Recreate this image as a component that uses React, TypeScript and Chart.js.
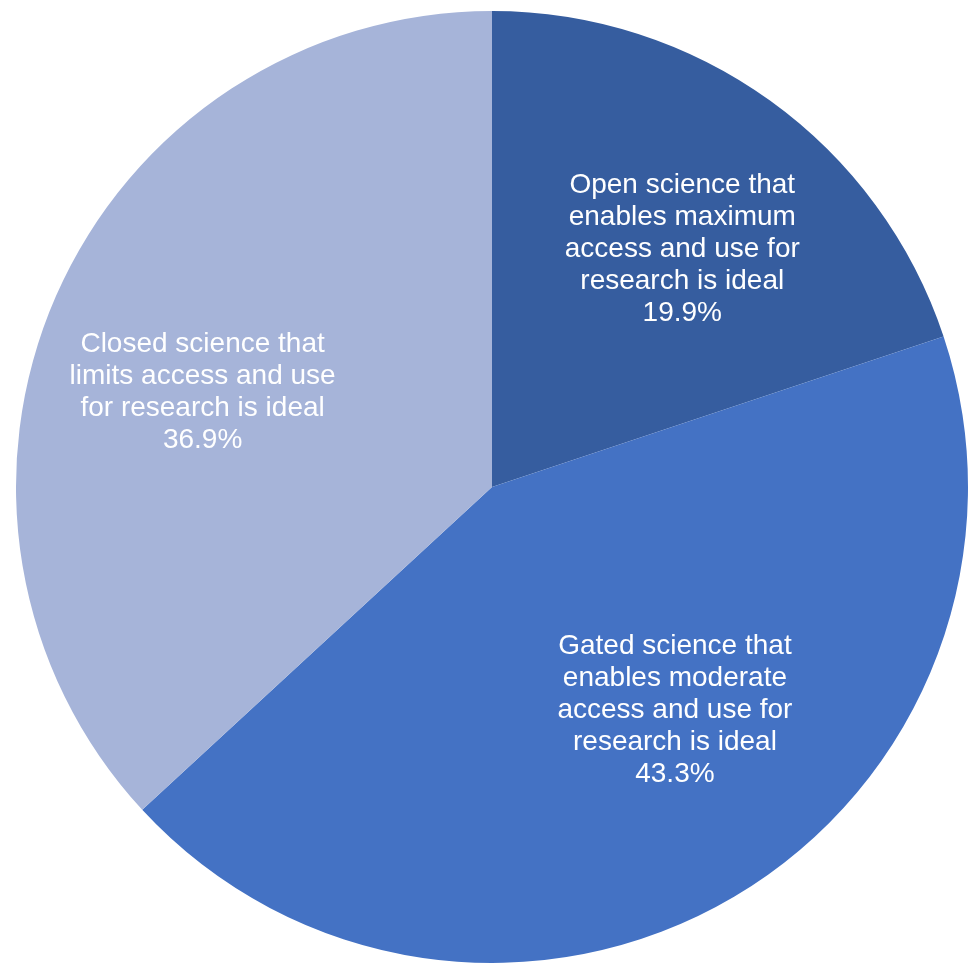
import React, { useEffect, useRef } from "react";
import { Chart, registerables } from "chart.js";

Chart.register(...registerables);

const categories = [
  "Open science that enables maximum access and use for research is ideal",
  "Gated science that enables moderate access and use for research is ideal",
  "Closed science that limits access and use for research is ideal",
];
const values = [19.9, 43.3, 36.9];
const percentLabels = ["19.9%", "43.3%", "36.9%"];
const labelLines = [
  ["Open science that", "enables maximum", "access and use for", "research is ideal"],
  ["Gated science that", "enables moderate", "access and use for", "research is ideal"],
  ["Closed science that", "limits access and use", "for research is ideal"],
];
const colors = ["#365D9F", "#4472C4", "#A6B4D9"];

// label placement: fraction of radius and angle offset (radians) from slice mid-angle
const labelRadius = [0.64, 0.607, 0.64];
const labelAngleOffset = [0.05, -0.152, -0.095];

const labelPlugin = {
  id: "sliceLabels",
  afterDatasetsDraw(chart: any) {
    const ctx = chart.ctx;
    const meta = chart.getDatasetMeta(0);
    ctx.save();
    ctx.fillStyle = "#ffffff";
    ctx.font = '28px "Liberation Sans", Arial, sans-serif';
    ctx.textAlign = "center";
    ctx.textBaseline = "middle";
    const lineH = 32;
    meta.data.forEach((arc: any, i: number) => {
      const p = arc.getProps(["x", "y", "startAngle", "endAngle", "outerRadius"], true);
      const mid = (p.startAngle + p.endAngle) / 2 + labelAngleOffset[i];
      const r = p.outerRadius * labelRadius[i];
      const cx = p.x + Math.cos(mid) * r;
      const cy = p.y + Math.sin(mid) * r;
      const lines = [...labelLines[i], percentLabels[i]];
      const y0 = cy - ((lines.length - 1) * lineH) / 2;
      lines.forEach((t, k) => ctx.fillText(t, cx, y0 + k * lineH));
    });
    ctx.restore();
  },
};

export default function App() {
  const ref = useRef<HTMLCanvasElement>(null);
  useEffect(() => {
    document.body.style.margin = "0";
    const chart = new Chart(ref.current!, {
      type: "pie",
      data: {
        labels: categories,
        datasets: [
          {
            data: values,
            backgroundColor: colors,
            borderWidth: 0,
          },
        ],
      },
      options: {
        responsive: false,
        animation: false,
        layout: { padding: { left: 16, right: 4, top: 11, bottom: 1 } },
        plugins: { legend: { display: false }, tooltip: { enabled: false } },
      },
      plugins: [labelPlugin],
    });
    return () => chart.destroy();
  }, []);
  return (
    <div style={{ position: "absolute", left: 0, top: 0, width: 972, height: 964, background: "#fff" }}>
      <canvas ref={ref} width={972} height={964} />
    </div>
  );
}
